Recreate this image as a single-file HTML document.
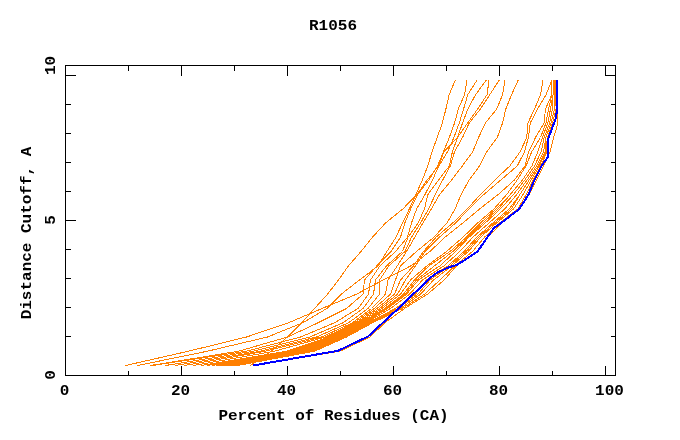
<!DOCTYPE html>
<html><head><meta charset="utf-8"><title>R1056</title>
<style>
html,body{margin:0;padding:0;background:#fff;}
body{width:680px;height:440px;overflow:hidden;}
svg{display:block;}
text{font-family:"Liberation Mono","DejaVu Sans Mono",monospace;font-weight:bold;font-size:16px;fill:#000;}
.tx{opacity:.999;}
.fr{stroke:#000;stroke-width:1;fill:none;shape-rendering:crispEdges;}
.o{stroke:#ff7f00;stroke-width:1;fill:none;shape-rendering:crispEdges;stroke-linejoin:round;stroke-linecap:square;}
.b{stroke:#0000ff;stroke-width:2;fill:none;shape-rendering:crispEdges;stroke-linejoin:round;}
</style></head><body>
<svg width="680" height="440" viewBox="0 0 680 440">
<rect width="680" height="440" fill="#fff"/>
<polyline class="o" points="489.0,80.5 487.0,94.8 477.7,109.0 467.5,123.2 457.5,137.5 444.0,151.8 438.5,166.0 427.0,180.2 416.9,194.5 403.0,208.8 385.5,223.0 372.5,237.2 361.0,251.5 348.5,265.8 338.5,280.0 327.5,294.2 314.5,308.5 301.8,322.8 287.5,337.0 271.0,351.2 250.5,365.5"/>
<polyline class="o" points="455.1,80.5 449.1,94.8 445.9,109.0 442.3,123.2 437.2,137.5 432.0,151.8 427.8,166.0 422.2,180.2 416.0,194.5 409.4,208.8 402.5,223.0 396.0,237.2 386.9,251.5 378.2,265.8 359.5,280.0 341.2,294.2 326.9,308.5 302.8,322.8 267.5,337.0 207.5,351.2 137.5,365.5"/>
<polyline class="o" points="467.0,80.5 464.5,94.8 458.3,109.0 454.5,123.2 449.3,137.5 443.5,151.8 437.5,166.0 428.7,180.2 417.7,194.5 410.8,208.8 404.8,223.0 400.5,237.2 391.0,251.5 376.8,265.8 364.5,280.0 363.0,294.2 346.5,308.5 318.0,322.8 287.7,337.0 238.5,351.2 150.5,365.5"/>
<polyline class="o" points="476.8,80.5 467.7,94.8 463.6,109.0 459.2,123.2 453.9,137.5 447.5,151.8 438.8,166.0 432.4,180.2 425.0,194.5 416.7,208.8 411.5,223.0 407.5,237.2 395.5,251.5 380.0,265.8 370.5,280.0 368.5,294.2 358.0,308.5 334.5,322.8 300.5,337.0 246.5,351.2 152.5,365.5"/>
<polyline class="o" points="486.0,80.5 475.5,94.8 467.9,109.0 462.5,123.2 457.5,137.5 452.4,151.8 449.3,166.0 438.5,180.2 427.9,194.5 424.5,208.8 418.2,223.0 408.0,237.2 402.5,251.5 386.5,265.8 375.5,280.0 373.5,294.2 363.0,308.5 343.0,322.8 309.9,337.0 253.5,351.2 165.5,365.5"/>
<polyline class="o" points="499.0,80.5 489.7,94.8 480.4,109.0 469.1,123.2 462.5,137.5 454.5,151.8 450.3,166.0 442.6,180.2 435.3,194.5 428.7,208.8 420.5,223.0 411.5,237.2 405.0,251.5 388.9,265.8 379.5,280.0 379.5,294.2 368.0,308.5 348.5,322.8 316.5,337.0 260.5,351.2 175.5,365.5"/>
<polyline class="o" points="505.0,80.5 502.6,94.8 496.7,109.0 485.3,123.2 478.6,137.5 472.7,151.8 462.3,166.0 451.5,180.2 439.6,194.5 431.4,208.8 422.9,223.0 414.8,237.2 406.5,251.5 397.3,265.8 388.0,280.0 385.5,294.2 371.5,308.5 352.5,322.8 321.5,337.0 265.5,351.2 184.5,365.5"/>
<polyline class="o" points="518.0,80.5 511.5,94.8 505.8,109.0 502.5,123.2 497.3,137.5 486.7,151.8 479.5,166.0 469.0,180.2 461.1,194.5 455.2,208.8 446.9,223.0 434.0,237.2 416.5,251.5 400.5,265.8 395.5,280.0 390.5,294.2 374.2,308.5 354.5,322.8 325.5,337.0 274.5,351.2 193.5,365.5"/>
<polyline class="o" points="543.0,80.5 540.5,94.8 534.5,109.0 527.8,123.2 526.8,137.5 520.1,151.8 509.8,166.0 494.6,180.2 480.4,194.5 467.5,208.8 452.7,223.0 436.0,237.2 423.5,251.5 413.5,265.8 400.5,280.0 394.5,294.2 377.0,308.5 356.5,322.8 328.5,337.0 287.0,351.2 201.5,365.5"/>
<polyline class="o" points="551.8,80.5 546.0,94.8 537.5,109.0 530.2,123.2 528.4,137.5 524.5,151.8 517.2,166.0 500.6,180.2 483.8,194.5 469.2,208.8 455.5,223.0 439.5,237.2 425.0,251.5 415.5,265.8 405.5,280.0 397.5,294.2 379.5,308.5 358.1,322.8 330.3,337.0 289.8,351.2 207.5,365.5"/>
<polyline class="o" points="551.8,80.5 551.8,94.8 545.5,109.0 544.0,123.2 535.5,137.5 528.7,151.8 525.0,166.0 514.2,180.2 498.2,194.5 479.8,208.8 462.8,223.0 445.0,237.2 430.0,251.5 411.0,265.8 383.0,280.0 356.5,294.2 322.0,308.5 288.5,322.8 246.5,337.0 188.5,351.2 125.5,365.5"/>
<polyline class="o" points="551.8,80.5 551.8,94.8 548.6,109.0 545.9,123.2 540.5,137.5 531.7,151.8 526.0,166.0 517.1,180.2 506.7,194.5 494.1,208.8 477.7,223.0 463.0,237.2 446.5,251.5 427.0,265.8 410.5,280.0 400.5,294.2 382.0,308.5 359.7,322.8 332.1,337.0 292.5,351.2 212.5,365.5"/>
<polyline class="o" points="553.0,80.5 553.0,94.8 550.5,109.0 547.8,123.2 542.4,137.5 537.8,151.8 531.9,166.0 522.3,180.2 510.3,194.5 496.2,208.8 480.5,223.0 466.5,237.2 450.0,251.5 429.0,265.8 414.5,280.0 403.5,294.2 384.5,308.5 361.3,322.8 333.9,337.0 295.2,351.2 216.5,365.5"/>
<polyline class="o" points="553.0,80.5 553.0,94.8 550.5,109.0 547.8,123.2 542.4,137.5 537.8,151.8 531.9,166.0 522.3,180.2 510.3,194.5 498.4,208.8 482.9,223.0 467.8,237.2 452.8,251.5 434.5,265.8 416.5,280.0 405.0,294.2 386.0,308.5 362.9,322.8 335.7,337.0 298.0,351.2 219.5,365.5"/>
<polyline class="o" points="553.0,80.5 553.0,94.8 552.4,109.0 549.6,123.2 544.2,137.5 541.1,151.8 534.5,166.0 524.7,180.2 513.5,194.5 500.5,208.8 485.2,223.0 469.0,237.2 455.5,251.5 440.0,265.8 418.5,280.0 406.5,294.2 387.5,308.5 364.5,322.8 337.5,337.0 300.8,351.2 222.5,365.5"/>
<polyline class="o" points="554.5,80.5 554.5,94.8 554.5,109.0 551.0,123.2 545.9,137.5 543.6,151.8 536.6,166.0 527.0,180.2 516.7,194.5 504.9,208.8 489.0,223.0 472.9,237.2 459.8,251.5 444.0,265.8 422.5,280.0 409.5,294.2 390.5,308.5 366.1,322.8 339.3,337.0 303.5,351.2 225.5,365.5"/>
<polyline class="o" points="554.5,80.5 554.5,94.8 554.5,109.0 551.0,123.2 545.9,137.5 545.0,151.8 538.1,166.0 529.1,180.2 519.9,194.5 509.3,208.8 492.8,223.0 476.8,237.2 464.0,251.5 448.0,265.8 426.5,280.0 415.5,294.2 395.5,308.5 367.7,322.8 341.1,337.0 306.2,351.2 228.5,365.5"/>
<polyline class="o" points="554.5,80.5 554.5,94.8 554.5,109.0 551.0,123.2 545.9,137.5 545.0,151.8 538.1,166.0 529.1,180.2 519.9,194.5 511.5,208.8 494.7,223.0 478.7,237.2 466.1,251.5 450.0,265.8 430.0,280.0 418.0,294.2 398.0,308.5 369.3,322.8 342.9,337.0 309.0,351.2 231.5,365.5"/>
<polyline class="o" points="555.5,80.5 555.7,94.8 556.1,109.0 552.5,123.2 547.4,137.5 546.0,151.8 539.3,166.0 531.1,180.2 523.1,194.5 513.7,208.8 496.6,223.0 480.6,237.2 468.3,251.5 452.0,265.8 433.5,280.0 420.5,294.2 400.5,308.5 370.9,322.8 344.7,337.0 311.8,351.2 234.5,365.5"/>
<polyline class="o" points="555.5,80.5 555.7,94.8 556.1,109.0 552.5,123.2 547.4,137.5 546.9,151.8 540.7,166.0 533.1,180.2 526.2,194.5 518.0,208.8 499.5,223.0 484.5,237.2 472.5,251.5 455.0,265.8 440.0,280.0 424.5,294.2 402.5,308.5 372.5,322.8 346.5,337.0 314.5,351.2 237.5,365.5"/>
<polyline class="o" points="557.5,80.5 557.5,94.8 557.5,109.0 558.0,123.2 553.6,137.5 550.2,151.8 543.7,166.0 536.5,180.2 529.0,194.5 520.0,208.8 501.5,223.0 488.0,237.2 478.0,251.5 456.5,265.8 444.2,280.0 427.5,294.2 404.5,308.5 384.8,322.8 370.0,337.0 340.0,351.2 254.5,365.5"/>
<polyline class="b" points="557.0,80.0 557.0,113.0 556.0,114.0 555.6,119.0 548.0,139.2 548.0,156.8 541.5,166.0 534.3,180.2 528.5,194.5 519.5,208.8 500.5,223.5 494.0,228.0 487.5,237.2 477.5,251.5 466.2,259.2 457.0,264.8 447.5,267.8 437.5,272.5 430.0,278.0 420.0,288.0 413.0,294.2 398.3,308.5 382.8,322.8 368.0,336.5 338.0,350.8 253.0,365.5"/>
<path class="fr" d="M65.5 65.5H615.5V375.5H65.5ZM128.5 375.5v-5M128.5 65.5v5M181.5 375.5v-10M181.5 65.5v10M234.5 375.5v-5M234.5 65.5v5M287.5 375.5v-10M287.5 65.5v10M340.5 375.5v-5M340.5 65.5v5M393.5 375.5v-10M393.5 65.5v10M446.5 375.5v-5M446.5 65.5v5M499.5 375.5v-10M499.5 65.5v10M552.5 375.5v-5M552.5 65.5v5M605.5 65.5v10M605.5 375.5v-10M65.5 336.5h5M615.5 336.5h-5M65.5 307.5h5M615.5 307.5h-5M65.5 278.5h5M615.5 278.5h-5M65.5 249.5h5M615.5 249.5h-5M65.5 220.5h10M615.5 220.5h-10M65.5 191.5h5M615.5 191.5h-5M65.5 162.5h5M615.5 162.5h-5M65.5 133.5h5M615.5 133.5h-5M65.5 104.5h5M615.5 104.5h-5M65.5 75.5h10M615.5 75.5h-10"/>
<g class="tx"><text text-anchor="middle" transform="translate(333,30) scale(1,0.93)">R1056</text>
<text text-anchor="middle" transform="translate(333.5,420) scale(1,0.86)">Percent of Residues (CA)</text>
<text text-anchor="middle" transform="translate(64.5,395) scale(1,0.94)">0</text>
<text text-anchor="middle" transform="translate(180.5,395) scale(1,0.94)">20</text>
<text text-anchor="middle" transform="translate(286.5,395) scale(1,0.94)">40</text>
<text text-anchor="middle" transform="translate(392.5,395) scale(1,0.94)">60</text>
<text text-anchor="middle" transform="translate(498.5,395) scale(1,0.94)">80</text>
<text text-anchor="middle" transform="translate(609.5,395) scale(1,0.94)">100</text>
<text text-anchor="middle" transform="translate(30.5,233) rotate(-90) scale(1,0.86)">Distance Cutoff, A</text>
<text text-anchor="middle" transform="translate(55,375) rotate(-90) scale(1,0.94)">0</text>
<text text-anchor="middle" transform="translate(55,220) rotate(-90) scale(1,0.94)">5</text>
<text text-anchor="middle" transform="translate(55,65.5) rotate(-90) scale(1,0.94)">10</text>
</g></svg>
</body></html>
